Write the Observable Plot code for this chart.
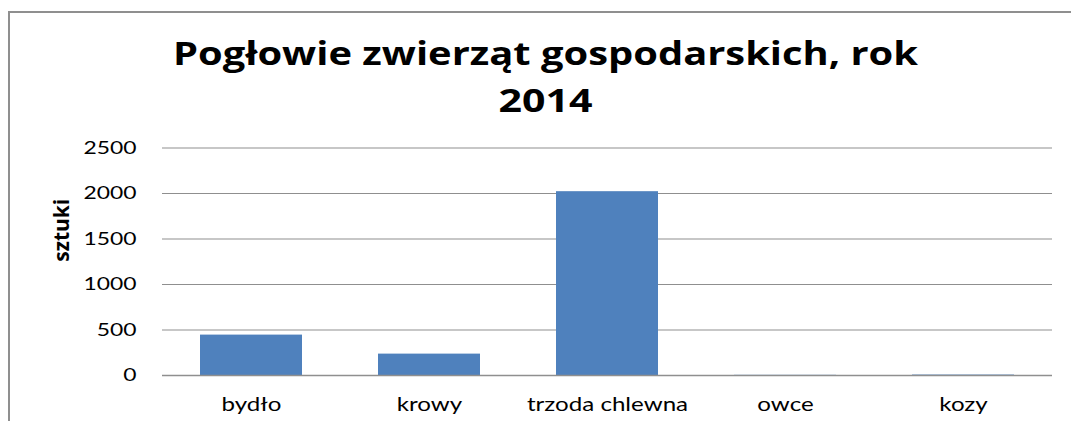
<!DOCTYPE html>
<html>
<head>
<meta charset="utf-8">
<script src="https://cdn.jsdelivr.net/npm/d3@7"></script>
<script src="https://cdn.jsdelivr.net/npm/@observablehq/plot@0.6"></script>
<style>
  html, body { margin: 0; padding: 0; background: #fff; }
  #wrap { position: relative; width: 1071px; height: 421px; overflow: hidden; }
  #frame { position: absolute; left: 8px; top: 11px; width: 1200px; height: 600px;
           border-top: 2px solid #8f8f8f; border-left: 2px solid #8f8f8f; box-sizing: border-box; }
  #chart { position: absolute; left: 0; top: 0; }
</style>
</head>
<body>
<div id="wrap"><div id="frame"></div><div id="chart"></div></div>
<script>
const categories = ["bydło", "krowy", "trzoda chlewna", "owce", "kozy"];
const values = [444, 235, 2020, 2, 5];
const yTicks = [0, 500, 1000, 1500, 2000, 2500];
const titleLines = ["Pogłowie zwierząt gospodarskich, rok", "2014"];
const yLabel = "sztuki";

const data = categories.map((c, i) => ({category: c, value: values[i]}));

const plot = Plot.plot({
  width: 1071,
  height: 421,
  marginTop: 147.5,
  marginBottom: 46,
  marginLeft: 162,
  marginRight: 19,
  style: {fontFamily: "Lato, 'Open Sans', sans-serif", background: "transparent", color: "#000"},
  x: {domain: categories, paddingInner: 0.425, paddingOuter: 0.2125, label: null},
  y: {domain: [0, 2500], label: null},
  marks: [
    Plot.gridY(yTicks, {stroke: "#8f8f8f", strokeOpacity: 1, strokeWidth: 1}),
    Plot.barY(data, {x: "category", y: "value", fill: "#4f81bd"}),
    Plot.ruleY([0], {stroke: "#8f8f8f", strokeWidth: 1.5}),
    Plot.axisY({ticks: yTicks, tickFormat: d3.format("d"), tickSize: 0, tickPadding: 26, fontSize: 18, label: null, fill: "#000"}),
    Plot.axisX({tickSize: 0, tickPadding: 22, fontSize: 19, label: null, fill: "#000"}),
    Plot.text([yLabel], {frameAnchor: "left", rotate: -90, dx: -100.5, fontSize: 21, fontWeight: "bold", fontFamily: "'Open Sans', sans-serif", fill: "#000"}),
    Plot.text([titleLines[0]], {frameAnchor: "top", dx: -62, dy: -94, fontSize: 33, fontWeight: "bold", fontFamily: "'Open Sans', sans-serif", fill: "#000", lineAnchor: "middle"}),
    Plot.text([titleLines[1]], {frameAnchor: "top", dx: -62, dy: -47, fontSize: 33, fontWeight: "bold", fontFamily: "'Open Sans', sans-serif", fill: "#000", lineAnchor: "middle"})
  ]
});

document.getElementById("chart").appendChild(plot);

// horizontal stretch of the text, as in the reference
const targets = new Map([[titleLines[0], 745], [titleLines[1], 94]]);
d3.select(plot).selectAll("text").each(function() {
  const t = this.textContent;
  if (!t || t === yLabel) return;
  const len = this.getComputedTextLength();
  const target = targets.has(t) ? targets.get(t) : len * 1.27;
  this.setAttribute("textLength", target);
  this.setAttribute("lengthAdjust", "spacingAndGlyphs");
});
</script>
</body>
</html>
